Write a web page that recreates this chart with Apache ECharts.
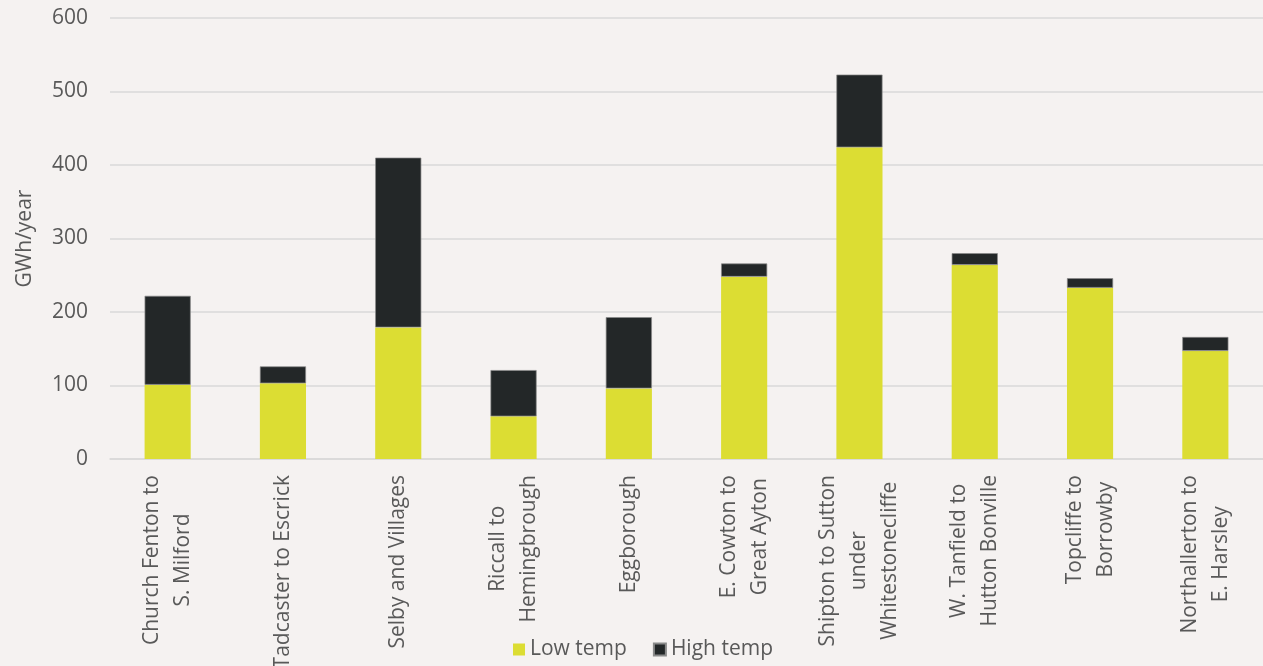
<!DOCTYPE html>
<html>
<head>
<meta charset="utf-8">
<script src="https://cdn.jsdelivr.net/npm/echarts@6/dist/echarts.min.js"></script>
<style>
  html, body { margin: 0; padding: 0; background: #f5f2f1; }
  #main { width: 1263px; height: 666px; }
</style>
</head>
<body>
<div id="main"></div>
<script>
// 区域名称（换行处与原图一致）
const categories = [
    'Church Fenton to\nS. Milford',
    'Tadcaster to Escrick',
    'Selby and Villages',
    'Riccall to\nHemingbrough',
    'Eggborough',
    'E. Cowton to\nGreat Ayton',
    'Shipton to Sutton\nunder\nWhitestonecliffe',
    'W. Tanfield to\nHutton Bonville',
    'Topcliffe to\nBorrowby',
    'Northallerton to\nE. Harsley'
];
const lowTemp = [101, 103, 179, 58, 96, 248, 424, 264, 233, 147];
const highTemp = [121, 23, 231, 63, 97, 18, 99, 16, 13, 19];
const yTicks = [0, 100, 200, 300, 400, 500, 600];

const textColor = '#595959';
const fontFamily = '"Open Sans", "Noto Sans", sans-serif';
const fontSize = 21;

const chart = echarts.init(document.getElementById('main'));

const option = {
    backgroundColor: '#f5f2f1',
    textStyle: { fontFamily: fontFamily },
    grid: {
        left: 110,
        right: 0,
        top: 18,
        bottom: 207,
        outerBoundsMode: 'none' // 标签超出底部也不缩放网格
    },
    legend: {
        left: 508,
        top: 634,
        itemWidth: 12,
        itemHeight: 12,
        itemGap: 26,
        icon: 'rect',
        textStyle: { color: textColor, fontSize: fontSize, fontFamily: fontFamily },
        data: ['Low temp', 'High temp']
    },
    xAxis: {
        type: 'category',
        data: categories,
        axisLine: { lineStyle: { color: '#d9d9d9', width: 1.5 } },
        axisTick: { show: false },
        axisLabel: {
            rotate: 90,
            interval: 0,
            margin: 16,
            color: textColor,
            fontSize: fontSize,
            fontFamily: fontFamily,
            lineHeight: 31,
            // 多行标签居中对齐
            formatter: function (v) {
                return v.split('\n').map(s => '{c|' + s + '}').join('\n');
            },
            rich: {
                c: { align: 'center', color: textColor, fontSize: fontSize, fontFamily: fontFamily, lineHeight: 31 }
            }
        }
    },
    yAxis: {
        type: 'value',
        min: yTicks[0],
        max: yTicks[yTicks.length - 1],
        interval: 100,
        name: 'GWh/year',
        nameLocation: 'middle',
        nameGap: 74,
        nameTextStyle: { color: textColor, fontSize: fontSize, fontFamily: fontFamily },
        axisLine: { show: false },
        axisTick: { show: false },
        axisLabel: { color: textColor, fontSize: fontSize, margin: 22, fontFamily: fontFamily },
        splitLine: { lineStyle: { color: '#d9d9d9', width: 1.5 } }
    },
    series: [
        {
            name: 'Low temp',
            type: 'bar',
            stack: 'total',
            barWidth: '40%',
            itemStyle: { color: '#dcdd33' },
            data: lowTemp
        },
        {
            name: 'High temp',
            type: 'bar',
            stack: 'total',
            barWidth: '40%',
            itemStyle: { color: '#232728', borderColor: '#8a8a8a', borderWidth: 0.7 },
            data: highTemp
        }
    ]
};

chart.setOption(option);
</script>
</body>
</html>
